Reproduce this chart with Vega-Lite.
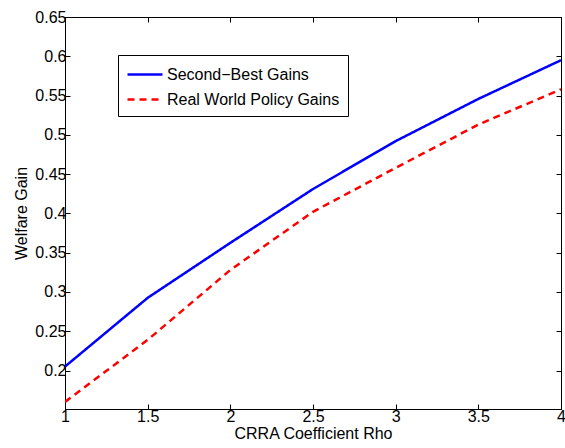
{
  "$schema": "https://vega.github.io/schema/vega-lite/v6.json",
  "width": 496,
  "height": 392,
  "autosize": "none",
  "padding": {"left": 65, "top": 17, "right": 4, "bottom": 39},
  "background": "white",
  "config": {
    "font": "Liberation Sans",
    "view": {"stroke": "black", "strokeWidth": 1},
    "axis": {
      "grid": false,
      "domainColor": "black",
      "domainWidth": 1,
      "tickColor": "black",
      "tickSize": -5,
      "labelColor": "black",
      "labelFontSize": 16,
      "labelFont": "Liberation Sans",
      "titleFont": "Liberation Sans",
      "titleFontSize": 16,
      "titleFontWeight": "normal",
      "titleColor": "black"
    }
  },
  "data": {
    "values": [
      {"rho": 1.0, "gain": 0.205, "series": "Second\u2212Best Gains"},
      {"rho": 1.5, "gain": 0.2925, "series": "Second\u2212Best Gains"},
      {"rho": 2.0, "gain": 0.3625, "series": "Second\u2212Best Gains"},
      {"rho": 2.5, "gain": 0.431, "series": "Second\u2212Best Gains"},
      {"rho": 3.0, "gain": 0.492, "series": "Second\u2212Best Gains"},
      {"rho": 3.5, "gain": 0.5457, "series": "Second\u2212Best Gains"},
      {"rho": 4.0, "gain": 0.595, "series": "Second\u2212Best Gains"},
      {"rho": 1.0, "gain": 0.16, "series": "Real World Policy Gains"},
      {"rho": 1.5, "gain": 0.239, "series": "Real World Policy Gains"},
      {"rho": 2.0, "gain": 0.328, "series": "Real World Policy Gains"},
      {"rho": 2.5, "gain": 0.402, "series": "Real World Policy Gains"},
      {"rho": 3.0, "gain": 0.458, "series": "Real World Policy Gains"},
      {"rho": 3.5, "gain": 0.513, "series": "Real World Policy Gains"},
      {"rho": 4.0, "gain": 0.558, "series": "Real World Policy Gains"}
    ]
  },
  "resolve": {"axis": {"x": "independent", "y": "independent"}},
  "layer": [
    {
      "mark": {"type": "line", "strokeWidth": 2.5, "clip": true},
      "encoding": {
        "x": {
          "field": "rho", "type": "quantitative",
          "scale": {"domain": [1, 4], "nice": false, "zero": false},
          "axis": {"values": [1, 1.5, 2, 2.5, 3, 3.5, 4], "title": "CRRA Coefficient Rho", "titlePadding": 1, "labelPadding": 4, "labelFlush": false, "format": "~g"}
        },
        "y": {
          "field": "gain", "type": "quantitative",
          "scale": {"domain": [0.151, 0.65], "nice": false, "zero": false},
          "axis": {"values": [0.2, 0.25, 0.3, 0.35, 0.4, 0.45, 0.5, 0.55, 0.6, 0.65], "title": "Welfare Gain", "titlePadding": 5, "labelPadding": 4, "labelFlush": false, "format": "~g"}
        },
        "color": {
          "field": "series", "type": "nominal",
          "scale": {"domain": ["Second\u2212Best Gains", "Real World Policy Gains"], "range": ["#0000ff", "#ff0000"]},
          "legend": {
            "title": null, "orient": "none", "legendX": 53, "legendY": 38,
            "strokeColor": "black", "fillColor": "white", "padding": 8,
            "symbolType": "M-1,0H2.5", "symbolStrokeWidth": 2.5, "symbolSize": 400,
            "labelFontSize": 16, "labelFont": "Liberation Sans", "labelColor": "black",
            "labelLimit": 400, "rowPadding": 5, "labelOffset": 18
          }
        },
        "strokeDash": {
          "field": "series", "type": "nominal",
          "scale": {"domain": ["Second\u2212Best Gains", "Real World Policy Gains"], "range": [[1, 0], [7, 5]]},
          "legend": {
            "title": null, "orient": "none", "legendX": 53, "legendY": 38,
            "strokeColor": "black", "fillColor": "white", "padding": 8,
            "symbolType": "M-1,0H2.5", "symbolStrokeWidth": 2.5, "symbolSize": 400,
            "labelFontSize": 16, "labelFont": "Liberation Sans", "labelColor": "black",
            "labelLimit": 400, "rowPadding": 5, "labelOffset": 18
          }
        }
      }
    },
    {
      "mark": {"type": "line", "strokeOpacity": 0},
      "encoding": {
        "x": {
          "field": "rho", "type": "quantitative",
          "axis": {"orient": "top", "values": [1, 1.5, 2, 2.5, 3, 3.5, 4], "labels": false, "title": null}
        },
        "y": {
          "field": "gain", "type": "quantitative",
          "axis": {"orient": "right", "values": [0.2, 0.25, 0.3, 0.35, 0.4, 0.45, 0.5, 0.55, 0.6, 0.65], "labels": false, "title": null}
        },
        "detail": {"field": "series"}
      }
    }
  ]
}
